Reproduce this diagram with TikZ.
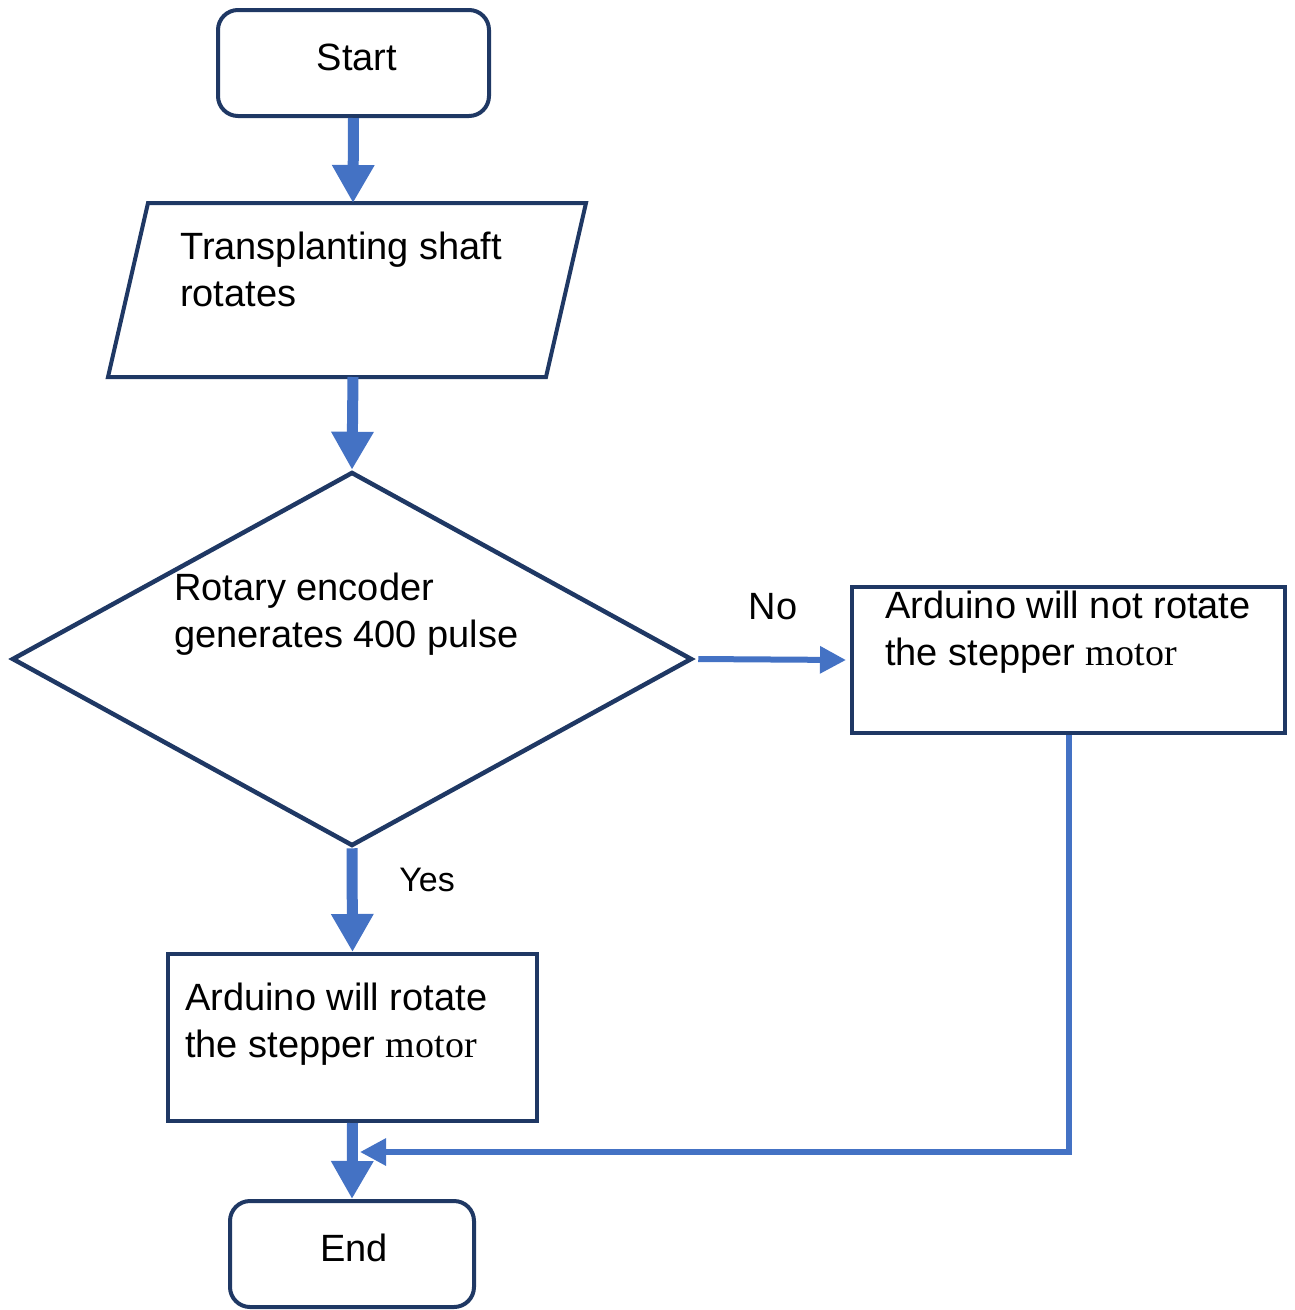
\documentclass[tikz,border=0pt]{standalone}
\usepackage{fontspec}
\setmainfont{Liberation Sans}
\newfontfamily\serifmotor{Liberation Serif}
\usetikzlibrary{arrows.meta,shapes.geometric}
\definecolor{navy}{HTML}{1F3864}
\definecolor{arrblue}{HTML}{4472C4}
\begin{document}
\begin{tikzpicture}[x=1pt,y=-1pt,
  box/.style={draw=navy,line width=4pt,inner sep=0pt},
  txt/.style={font=\fontsize{38}{47}\selectfont,inner sep=0pt,align=left},
  bigarrow/.style={draw=arrblue,line width=11pt,-{Triangle[length=38pt,width=40pt]}},
  thinarrow/.style={draw=arrblue,line width=6pt,-{Triangle[length=26pt,width=26pt]}}]
\useasboundingbox (0,0) rectangle (1295,1310);
% Start
\node[box,rounded corners=20pt,minimum width=271pt,minimum height=106pt] (start) at (353.5,63) {};
\node[txt] (starttxt) at (357,57) {Start};
% parallelogram
\draw[navy,line width=4pt,line join=miter] (148,203) -- (586,203) -- (546,377) -- (108,377) -- cycle;
\coordinate (paratop) at (353,203);
\coordinate (parabot) at (353,377);
\node[txt,anchor=west] (paratxt) at (180,269) {Transplanting shaft\\rotates};
% decision
\node[draw=navy,line width=4.5pt,diamond,minimum width=680pt,minimum height=374pt,inner sep=0pt] (dec) at (352,659) {};
\node[txt,anchor=west] (dectxt) at (174,614) {Rotary encoder\\generates 400 pulse};
% No box
\node[box,minimum width=433pt,minimum height=146pt] (no) at (1068.5,660) {};
\node[txt,anchor=west] (notxt) at (885,632) {Arduino will not rotate\\the stepper {\serifmotor motor}};
% Yes box
\node[box,minimum width=369pt,minimum height=167pt] (yes) at (352.5,1037.5) {};
\node[txt,anchor=west] (yestxt) at (185,1024) {Arduino will rotate\\the stepper {\serifmotor motor}};
% End
\node[box,rounded corners=20pt,minimum width=244pt,minimum height=106pt] (end) at (352,1254) {};
\node[txt] (endtxt) at (354,1248) {End};
% labels
\node[txt] (nolabel) at (773,607) {No};
\node[txt,font=\fontsize{34}{40}\selectfont] (yeslabel) at (427,880) {Yes};
% arrows
\coordinate (join) at (360,1152);
\draw[bigarrow] (start.south) -- (paratop);
\draw[bigarrow] (parabot) -- (dec.north);
\draw[bigarrow] (dec.south) -- (yes.north);
\draw[bigarrow] (yes.south) -- (end.north);
\draw[thinarrow] ([xshift=4pt]dec.east) -- ([xshift=-4pt]no.west);
\draw[thinarrow] (no.south) |- (join);
\end{tikzpicture}
\end{document}
